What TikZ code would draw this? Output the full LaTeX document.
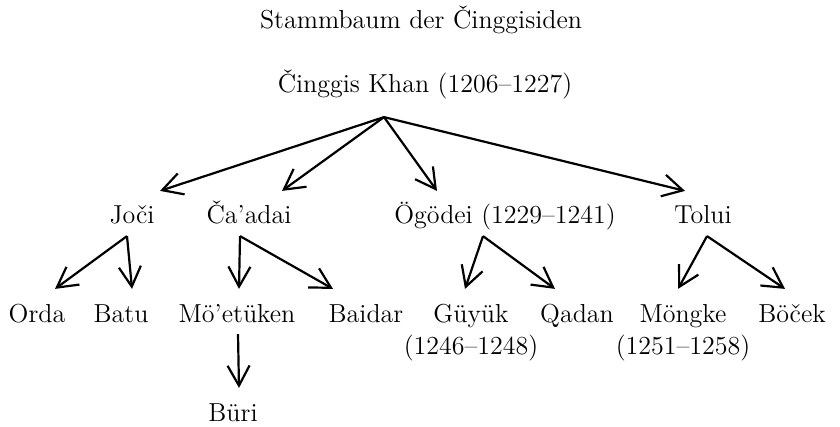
\documentclass[tikz,border=0pt]{standalone}
\usetikzlibrary{arrows.meta}
\newcommand{\namefont}{\fontsize{13}{15.5}\selectfont}
\tikzset{>={Straight Barb[length=10pt, width=11pt]},
  every edge/.style={draw, ->},
  person/.style={font=\namefont, inner sep=0pt, text height=16pt, text depth=5.5pt, anchor=base},
  years/.style={font=\namefont, inner sep=0pt}}

\begin{document}
\begin{tikzpicture}[x=0.5pt, y=-0.5pt, line width=1.1pt]
    \useasboundingbox (0,0) rectangle (840,427);
    \node[person] (title) at (421,29) {Stammbaum der Činggisiden};
    \node[person, text depth=11.5pt] (khan) at (425,93) {Činggis Khan (1206--1227)};
    % sons
    \node[person] (joci) at (132,224) {Joči};
    \node[person] (caadai) at (249,224) {Ča’adai};
    \node[person] (ogodei) at (505,224) {Ögödei (1229--1241)};
    \node[person] (tolui) at (703,224) {Tolui};
    % grandsons
    \node[person] (orda) at (37,322) {Orda};
    \node[person] (batu) at (121,322) {Batu};
    \node[person] (moetuken) at (237,322) {Mö’etüken};
    \node[person] (baidar) at (366,322) {Baidar};
    \node[person, label={[years]below:(1246--1248)}] (guyuk) at (471,322) {Güyük};
    \node[person] (qadan) at (577,322) {Qadan};
    \node[person, label={[years]below:(1251--1258)}] (mongke) at (683,322) {Möngke};
    \node[person] (bocek) at (792,322) {Böček};
    \node[person] (buri) at (233,421) {Büri};
    \path ([xshift=-20.5pt]khan.south) edge ([xshift=14pt]joci.north)
        ([xshift=-20.5pt]khan.south) edge ([xshift=16.5pt]caadai.north)
        ([xshift=-20.5pt]khan.south) edge ([xshift=-34pt]ogodei.north)
        ([xshift=-20.5pt]khan.south) edge ([xshift=-9pt]tolui.north);
    \path ([xshift=-2.5pt]joci.south) edge ([xshift=9pt]orda.north)
        ([xshift=-2.5pt]joci.south) edge ([xshift=5.5pt]batu.north)
        ([xshift=-4.5pt]caadai.south) edge ([xshift=1pt]moetuken.north)
        ([xshift=-4.5pt]caadai.south) edge ([xshift=-16.5pt]baidar.north)
        ([xshift=-11pt]ogodei.south) edge ([xshift=-3pt]guyuk.north)
        ([xshift=-11pt]ogodei.south) edge ([xshift=-11pt]qadan.north)
        ([xshift=2pt]tolui.south) edge ([xshift=-2.5pt]mongke.north)
        ([xshift=2pt]tolui.south) edge ([xshift=-3.5pt]bocek.north)
        ([xshift=0.5pt]moetuken.south) edge ([xshift=3pt]buri.north);
\end{tikzpicture}
\end{document}
